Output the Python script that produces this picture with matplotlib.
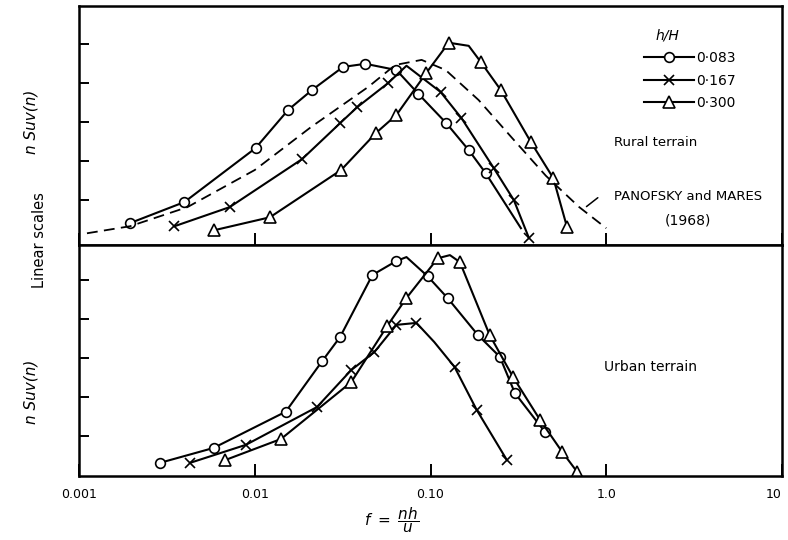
import matplotlib
matplotlib.use("Agg")
import matplotlib.pyplot as plt
from matplotlib.lines import Line2D

# ---- data (x = f = nh/u, y = n Suv(n) in tick units) ----
# rural terrain
rural_o_f = [0.00195, 0.00398, 0.0101, 0.0155, 0.0212, 0.0318, 0.0426, 0.064, 0.0853, 0.123, 0.165, 0.206, 0.327]
rural_o_v = [0.41, 0.95, 2.33, 3.31, 3.82, 4.41, 4.49, 4.33, 3.72, 2.97, 2.28, 1.69, 0.28]
rural_o_marks = list(range(12))

rural_x_f = [0.00349, 0.0072, 0.0186, 0.0306, 0.0383, 0.0575, 0.073, 0.114, 0.150, 0.229, 0.298, 0.363]
rural_x_v = [0.33, 0.82, 2.05, 2.97, 3.38, 4.0, 4.44, 3.77, 3.1, 1.82, 1.0, 0.03]
rural_x_marks = [0, 1, 2, 3, 4, 5, 7, 8, 9, 10, 11]

rural_t_f = [0.0059, 0.0122, 0.031, 0.049, 0.064, 0.0948, 0.127, 0.165, 0.193, 0.251, 0.372, 0.50, 0.598]
rural_t_v = [0.23, 0.56, 1.77, 2.72, 3.18, 4.26, 5.03, 4.95, 4.54, 3.82, 2.49, 1.56, 0.31]
rural_t_marks = [0, 1, 2, 3, 4, 5, 6, 8, 9, 10, 11, 12]

panofsky_f = [0.00111, 0.00195, 0.00414, 0.01, 0.0209, 0.0443, 0.063, 0.089, 0.122, 0.188, 0.29, 0.454, 0.702, 1.0]
panofsky_v = [0.15, 0.33, 0.82, 1.77, 2.87, 3.9, 4.46, 4.59, 4.33, 3.56, 2.6, 1.62, 0.82, 0.28]

# urban terrain
urban_o_f = [0.0029, 0.00583, 0.015, 0.0242, 0.0306, 0.0467, 0.064, 0.073, 0.0962, 0.125, 0.186, 0.248, 0.302, 0.448]
urban_o_v = [0.31, 0.69, 1.62, 2.92, 3.54, 5.13, 5.49, 5.59, 5.1, 4.54, 3.59, 3.03, 2.1, 1.1]
urban_o_marks = [0, 1, 2, 3, 4, 5, 6, 8, 9, 10, 11, 12, 13]

urban_x_f = [0.0043, 0.0089, 0.0226, 0.0354, 0.0479, 0.064, 0.0832, 0.105, 0.137, 0.183, 0.272]
urban_x_v = [0.31, 0.77, 1.74, 2.69, 3.15, 3.85, 3.9, 3.41, 2.77, 1.67, 0.38]
urban_x_marks = [0, 1, 2, 3, 4, 5, 6, 8, 9, 10]

urban_t_f = [0.0068, 0.0141, 0.0354, 0.0567, 0.073, 0.11, 0.129, 0.147, 0.217, 0.295, 0.42, 0.561, 0.682]
urban_t_v = [0.38, 0.92, 2.38, 3.82, 4.54, 5.56, 5.64, 5.46, 3.59, 2.51, 1.41, 0.59, 0.08]
urban_t_marks = [0, 1, 2, 3, 4, 5, 7, 8, 9, 10, 11, 12]

hH_labels = ["0·083", "0·167", "0·300"]
xtick_vals = [0.001, 0.01, 0.1, 1, 10]
xtick_labels = ["0.001", "0.01", "0.10", "1.0", "10"]

plt.rcParams["font.family"] = ["DejaVu Sans"]

W, H = 788, 540
fig = plt.figure(figsize=(W / 100, H / 100), dpi=100)

def fx(px):
    return px / W

def fy(py):
    return 1 - py / H

ax1 = fig.add_axes([fx(79), fy(245), 703 / W, 239 / H])
ax2 = fig.add_axes([fx(79), fy(476), 703 / W, 231 / H])

lw = 1.5
mk = dict(color="black", lw=lw, markerfacecolor="white", markeredgecolor="black", markeredgewidth=1.2)

# top panel
ax1.plot(rural_o_f, rural_o_v, marker="o", markersize=7, markevery=rural_o_marks, **mk)
ax1.plot(rural_x_f, rural_x_v, marker="x", markersize=7, markevery=rural_x_marks, **mk)
ax1.plot(rural_t_f, rural_t_v, marker="^", markersize=8, markevery=rural_t_marks, **mk)
ax1.plot(panofsky_f, panofsky_v, color="black", lw=1.3, linestyle=(0, (6, 3.5)))

# bottom panel
ax2.plot(urban_o_f, urban_o_v, marker="o", markersize=7, markevery=urban_o_marks, **mk)
ax2.plot(urban_x_f, urban_x_v, marker="x", markersize=7, markevery=urban_x_marks, **mk)
ax2.plot(urban_t_f, urban_t_v, marker="^", markersize=8, markevery=urban_t_marks, **mk)

for ax in (ax1, ax2):
    ax.set_xscale("log")
    ax.set_xlim(0.001, 10)
    ax.minorticks_off()
    ax.set_xticks(xtick_vals)
    ax.set_yticks([1, 2, 3, 4, 5])
    ax.set_yticklabels([])
    ax.tick_params(axis="both", direction="in", length=7, width=1.4, colors="black")
    ax.tick_params(axis="x", length=9, pad=9, labelsize=9)
    for s in ax.spines.values():
        s.set_linewidth(1.8)

ax1.set_ylim(-0.15, 5.97)
ax2.set_ylim(-0.03, 5.9)
ax1.set_xticklabels([])
ax2.set_xticklabels(xtick_labels)
ax2.get_xticklabels()[-1].set_horizontalalignment("right")

# legend
handles = [
    Line2D([], [], marker="o", markersize=7, **mk),
    Line2D([], [], marker="x", markersize=7, **mk),
    Line2D([], [], marker="^", markersize=8, **mk),
]
leg = ax1.legend(handles, hH_labels, loc="upper right", bbox_to_anchor=(fx(748), fy(16)),
                 bbox_transform=fig.transFigure, frameon=False, fontsize=10,
                 handlelength=3.6, handletextpad=0.15, labelspacing=0.62,
                 title="h/H", title_fontproperties={"style": "italic", "size": 10})
leg._legend_box.align = "left"
leg.get_title().set_position((12, 0))

# annotations
fig.text(fx(656), fy(142), "Rural terrain", fontsize=9.5, ha="center", va="center")
fig.text(fx(688), fy(197), "PANOFSKY and MARES", fontsize=9.5, ha="center", va="center")
fig.text(fx(688), fy(220), "(1968)", fontsize=10, ha="center", va="center")
ax1.annotate("", xy=(0.75, 0.79), xycoords="data", xytext=(fx(600), fy(196)),
             textcoords="figure fraction", arrowprops=dict(arrowstyle="-", color="black", lw=1.1))
fig.text(fx(650), fy(367), "Urban terrain", fontsize=10, ha="center", va="center")

fig.text(fx(31), fy(122), "n Suv(n)", fontsize=11, style="italic", rotation=90, ha="center", va="center")
fig.text(fx(40), fy(240), "Linear scales", fontsize=10.5, rotation=90, ha="center", va="center")
fig.text(fx(31), fy(392), "n Suv(n)", fontsize=11, style="italic", rotation=90, ha="center", va="center")
fig.text(fx(392), fy(520), r"$f\ =\ \dfrac{nh}{u}$", fontsize=11, ha="center", va="center")

fig.savefig("out.png", dpi=100)
